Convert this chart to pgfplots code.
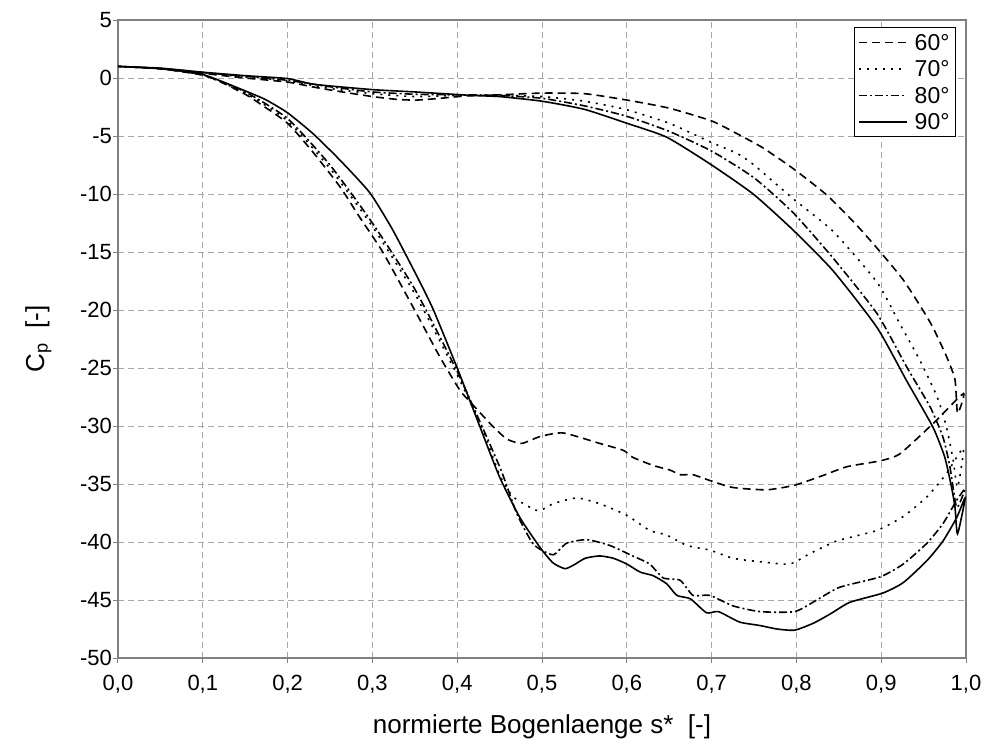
\documentclass[border=0pt]{standalone}
\usepackage{pgfplots}
\pgfplotsset{compat=1.18}
\usepackage{fontspec}
\setmainfont{Liberation Sans}
\definecolor{framegray}{HTML}{808080}
\definecolor{gridgray}{HTML}{A6A6A6}

\begin{document}
\begin{tikzpicture}
\path[use as bounding box] (-59pt,-43.5pt) rectangle (433.5pt,329pt);
\begin{axis}[
    scale only axis,
    width=424pt, height=319pt,
    xmin=0, xmax=1, ymin=-50, ymax=5,
    xtick={0,0.1,...,1.0},
    ytick={-50,-45,...,5},
    grid=major,
    grid style={gridgray, line width=0.5pt, dash pattern=on 3pt off 2pt},
    axis line style={framegray, line width=0.8pt},
    tick style={framegray, line width=0.5pt},
    tick align=outside,
    major tick length=2.5pt,
    xtick pos=bottom, ytick pos=left,
    /pgf/number format/assume math mode=true,
    xticklabel style={yshift=-2.5pt, /pgf/number format/.cd, use comma, fixed, fixed zerofill, precision=1},
    yticklabel style={xshift=3pt, /pgf/number format/fixed},
    tick label style={font=\fontsize{11}{13}\selectfont},
    xlabel={normierte Bogenlaenge s*\ \ [-]},
    ylabel={C\textsubscript{p}\ \ [-]},
    label style={font=\fontsize{13}{15}\selectfont},
    xlabel style={at={(axis description cs:0.5,-0.108)}, anchor=center},
    ylabel style={at={(axis description cs:-0.094,0.5)}, anchor=center},
    legend style={at={(rel axis cs:1,1)}, anchor=north east, xshift=-5pt, yshift=-3.5pt,
        draw=black, line width=0.5pt, fill=white,
        font=\fontsize{11.5}{13}\selectfont,
        inner xsep=2pt, inner ysep=2.4pt, row sep=3.25pt, column sep=2.5pt,
        nodes={inner sep=1pt, text height=8pt, text depth=0pt}},
    legend cell align=left,
    legend image code/.code={\draw[#1] (0pt,0pt) -- (24pt,0pt);},
    every axis plot/.append style={black, line width=0.8pt, smooth, tension=0.35},
]
% 60 deg
\addplot[dash pattern=on 4pt off 2.5pt] coordinates {
 (0,1.0) (0.05,0.8) (0.1,0.4) (0.15,0.0) (0.2,-0.35) (0.232,-0.8) (0.26,-1.15)
 (0.3,-1.6) (0.33,-1.85) (0.353,-1.9) (0.38,-1.75) (0.41,-1.55) (0.45,-1.45)
 (0.5,-1.3) (0.55,-1.35) (0.6,-1.9) (0.65,-2.6) (0.7,-3.7) (0.73,-4.8) (0.76,-6.0)
 (0.796,-7.8) (0.836,-10.1) (0.87,-12.6) (0.899,-15.0) (0.926,-17.4) (0.949,-20.0)
 (0.961,-21.5) (0.977,-24.0) (0.987,-26.0) (0.99,-28.9) (0.997,-27.2)
 (0.961,-29.8) (0.922,-32.4) (0.899,-33.0) (0.86,-33.5) (0.83,-34.3) (0.798,-35.1)
 (0.765,-35.5) (0.725,-35.3) (0.698,-34.7) (0.678,-34.2) (0.663,-34.2) (0.651,-33.8)
 (0.631,-33.4) (0.607,-32.7) (0.596,-32.1) (0.568,-31.5) (0.525,-30.6) (0.498,-30.9)
 (0.476,-31.5) (0.458,-31.1) (0.439,-29.8) (0.415,-27.9) (0.403,-26.9) (0.38,-24.1)
 (0.352,-20.3) (0.313,-15.1) (0.285,-12.0) (0.262,-9.4) (0.23,-6.4) (0.2,-3.9)
 (0.167,-2.2) (0.15,-1.4) (0.12,-0.3) (0.1,0.25) (0.05,0.8) (0,1.0)
};
% 70 deg
\addplot[dash pattern=on 1pt off 3pt] coordinates {
 (0,1.0) (0.05,0.82) (0.1,0.45) (0.15,0.1) (0.2,-0.25) (0.25,-0.9) (0.3,-1.35)
 (0.35,-1.6) (0.4,-1.5) (0.45,-1.5) (0.5,-1.6) (0.55,-2.0) (0.598,-2.7) (0.65,-3.9)
 (0.698,-5.5) (0.73,-6.5) (0.75,-7.5) (0.796,-10.4) (0.843,-13.2) (0.895,-17.6)
 (0.922,-21.2) (0.946,-24.4) (0.966,-27.5) (0.977,-30.1) (0.985,-33.0) (0.99,-35.3)
 (0.997,-31.9)
 (0.977,-34.1) (0.954,-36.1) (0.926,-37.8) (0.895,-39.0) (0.848,-39.9) (0.816,-41.0)
 (0.792,-41.9) (0.757,-41.7) (0.725,-41.4) (0.698,-40.7) (0.671,-40.3) (0.647,-39.4)
 (0.627,-39.0) (0.6,-37.7) (0.568,-36.7) (0.541,-36.2) (0.513,-36.7) (0.495,-37.3)
 (0.466,-36.1) (0.45,-34.2) (0.43,-30.3) (0.4,-25.6) (0.35,-18.6) (0.3,-12.8)
 (0.25,-7.8) (0.2,-3.7) (0.15,-1.3) (0.1,0.25) (0.05,0.8) (0,1.0)
};
% 80 deg
\addplot[dash pattern=on 4pt off 1.5pt on 1pt off 1.5pt] coordinates {
 (0,1.0) (0.05,0.83) (0.1,0.47) (0.15,0.15) (0.2,-0.2) (0.25,-0.75) (0.3,-1.2)
 (0.35,-1.4) (0.4,-1.45) (0.45,-1.5) (0.5,-1.75) (0.55,-2.4) (0.6,-3.3) (0.65,-4.6)
 (0.7,-6.3) (0.75,-8.6) (0.796,-11.6) (0.843,-15.5) (0.895,-20.3) (0.93,-24.9)
 (0.958,-28.4) (0.973,-31.0) (0.981,-33.5) (0.989,-37.0) (0.999,-35.4)
 (0.989,-36.4) (0.973,-38.4) (0.954,-40.1) (0.926,-41.9) (0.899,-43.0) (0.851,-43.9)
 (0.824,-45.0) (0.798,-46.0) (0.757,-46.0) (0.725,-45.5) (0.698,-44.6) (0.678,-44.6)
 (0.663,-43.3) (0.643,-43.1) (0.627,-41.9) (0.607,-41.2) (0.58,-40.3) (0.553,-39.8)
 (0.529,-40.1) (0.513,-41.1) (0.49,-40.2) (0.47,-37.5) (0.45,-33.5) (0.4,-25.3)
 (0.35,-18.2) (0.3,-12.5) (0.25,-7.5) (0.2,-3.5) (0.15,-1.2) (0.1,0.28) (0.05,0.8)
 (0,1.0)
};
% 90 deg
\addplot[solid] coordinates {
 (0,1.0) (0.05,0.85) (0.1,0.5) (0.15,0.2) (0.2,-0.05) (0.232,-0.55) (0.3,-1.0)
 (0.35,-1.2) (0.417,-1.5) (0.45,-1.6) (0.5,-2.0) (0.55,-2.7) (0.6,-3.9) (0.647,-5.1)
 (0.698,-7.4) (0.749,-10.0) (0.796,-13.1) (0.843,-16.6) (0.895,-21.5) (0.93,-26.1)
 (0.961,-30.1) (0.975,-32.7) (0.983,-35.3) (0.987,-37.0) (0.99,-39.3) (0.999,-36.2)
 (0.989,-37.9) (0.973,-39.9) (0.954,-41.6) (0.926,-43.5) (0.902,-44.4) (0.863,-45.2)
 (0.84,-46.2) (0.82,-47.0) (0.798,-47.6) (0.777,-47.5) (0.757,-47.2) (0.733,-46.9)
 (0.708,-46.0) (0.694,-46.1) (0.675,-44.9) (0.659,-44.6) (0.647,-43.6) (0.631,-42.9)
 (0.616,-42.6) (0.6,-41.9) (0.584,-41.4) (0.568,-41.2) (0.551,-41.4) (0.537,-42.0)
 (0.527,-42.3) (0.513,-41.8) (0.498,-40.5) (0.474,-37.9) (0.45,-34.4) (0.427,-30.1)
 (0.4,-25.0) (0.372,-20.0) (0.354,-17.3) (0.324,-13.1) (0.297,-9.9) (0.262,-7.1)
 (0.23,-4.8) (0.2,-3.0) (0.175,-1.9) (0.153,-1.2) (0.1,0.3) (0.05,0.8) (0,1.0)
};
\legend{60°, 70°, 80°, 90°}
\end{axis}
\end{tikzpicture}
\end{document}
